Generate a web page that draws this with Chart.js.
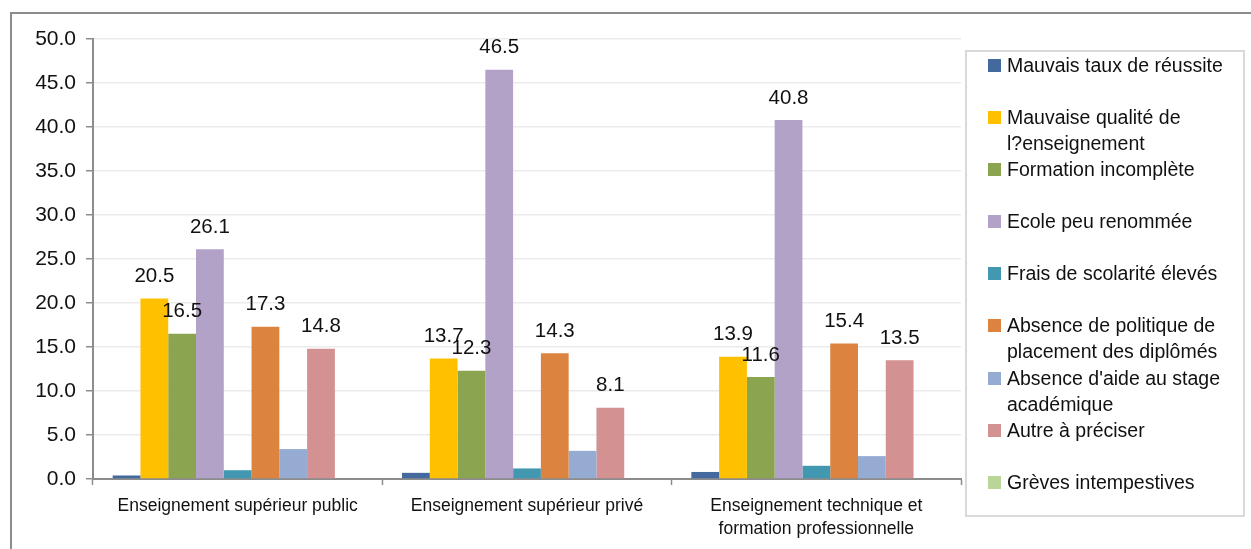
<!DOCTYPE html>
<html>
<head>
<meta charset="utf-8">
<script src="https://cdn.jsdelivr.net/npm/chart.js@4.4.1/dist/chart.umd.min.js"></script>
<style>
  html, body { margin: 0; padding: 0; background: #fff; overflow: hidden; }
  #wrap { position: relative; width: 1251px; height: 549px; }
  #frame { position: absolute; left: 10px; top: 12px; width: 1300px; height: 600px;
           border-top: 2px solid #8c8c8c; border-left: 2px solid #8c8c8c; }
  #main-chart { position: absolute; left: 0; top: 0; }
  #legend { position: absolute; left: 965px; top: 50px; width: 280px; height: 467px;
            border: 2px solid #d9d9d9; box-sizing: border-box; background: #fff;
            font-family: "Liberation Sans", Arial, sans-serif; font-size: 19.5px; color: #111; }
  .item { position: relative; height: 52.1px; line-height: 26px; padding-left: 40px; width: 236px; }
  .sw { position: absolute; left: 21px; top: 7px; width: 13px; height: 13px; }
  .w { white-space: nowrap; }
</style>
</head>
<body>
<div id="wrap">
  <div id="frame"></div>
  <canvas id="main-chart" width="1251" height="549"></canvas>
  <div id="legend"></div>
</div>
<script>
const categories = [
  "Enseignement supérieur public",
  "Enseignement supérieur privé",
  ["Enseignement technique et", "formation professionnelle"]
];
const seriesNames = [
  "Mauvais taux de réussite",
  "Mauvaise qualité de l?enseignement",
  "Formation incomplète",
  "Ecole peu renommée",
  "Frais de scolarité élevés",
  "Absence de politique de placement des diplômés",
  "Absence d'aide au stage académique",
  "Autre à préciser",
  "Grèves intempestives"
];
const tauxReussite   = [0.4, 0.7, 0.8];
const qualiteEns     = [20.5, 13.7, 13.9];
const formationInc   = [16.5, 12.3, 11.6];
const ecoleRenom     = [26.1, 46.5, 40.8];
const fraisScol      = [1.0, 1.2, 1.5];
const politiquePlac  = [17.3, 14.3, 15.4];
const aideStage      = [3.4, 3.2, 2.6];
const autre          = [14.8, 8.1, 13.5];
const greves         = [0, 0, 0];
const yTicks = [0, 5, 10, 15, 20, 25, 30, 35, 40, 45, 50];

const seriesValues = [tauxReussite, qualiteEns, formationInc, ecoleRenom, fraisScol,
                      politiquePlac, aideStage, autre, greves];
const colors = ['#44699f', '#ffc000', '#8aa44f', '#b3a2c7', '#4298b0',
                '#dc843f', '#95abd2', '#d39192', '#b9d597'];
// only these series carry value labels in the original
const labeled = [1, 2, 3, 5, 7];

const FONT = '"Liberation Sans", Arial, sans-serif';

const valueLabels = {
  id: 'valueLabels',
  afterDatasetsDraw(chart) {
    const ctx = chart.ctx;
    ctx.save();
    ctx.font = '20.5px ' + FONT;
    ctx.fillStyle = '#111';
    ctx.textAlign = 'center';
    ctx.textBaseline = 'middle';
    labeled.forEach(i => {
      const meta = chart.getDatasetMeta(i);
      meta.data.forEach((bar, j) => {
        ctx.fillText(seriesValues[i][j].toFixed(1), bar.x, bar.y - 22);
      });
    });
    ctx.restore();
  }
};

const chart = new Chart(document.getElementById('main-chart'), {
  type: 'bar',
  data: {
    labels: categories,
    datasets: seriesNames.map((name, i) => ({
      label: name,
      data: seriesValues[i],
      backgroundColor: colors[i],
      borderWidth: 0,
      categoryPercentage: 0.864,
      barPercentage: 1.0
    }))
  },
  options: {
    responsive: false,
    animation: false,
    layout: { padding: { left: 0, top: 39, right: 290, bottom: 0 } },
    plugins: { legend: { display: false }, tooltip: { enabled: false } },
    scales: {
      x: {
        afterFit: s => { s.height = 70; },
        border: { color: '#8c8c8c', width: 2 },
        grid: { drawOnChartArea: false, tickLength: 6, tickColor: '#8c8c8c', tickWidth: 1.5 },
        ticks: { color: '#111', padding: 10, maxRotation: 0, autoSkip: false,
                 font: { family: FONT, size: 17.5, lineHeight: 1.3 } }
      },
      y: {
        min: 0, max: 50,
        afterFit: s => { s.width = 93; },
        afterBuildTicks: s => { s.ticks = yTicks.map(v => ({ value: v })); },
        border: { color: '#8c8c8c', width: 2 },
        grid: { color: '#ebebeb', lineWidth: 1.5, tickLength: 7, tickColor: '#8c8c8c', tickWidth: 1.5 },
        ticks: { color: '#111', padding: 10, font: { family: FONT, size: 21 },
                 callback: v => Number(v).toFixed(1) }
      }
    }
  },
  plugins: [valueLabels]
});

// HTML legend: each word kept whole so "l?enseignement" does not split at the "?"
const legend = document.getElementById('legend');
seriesNames.forEach((name, i) => {
  const item = document.createElement('div');
  item.className = 'item';
  const words = name.split(' ').map(w => '<span class="w">' + w + '</span>').join(' ');
  item.innerHTML = '<span class="sw" style="background:' + colors[i] + '"></span>' + words;
  legend.appendChild(item);
});
</script>
</body>
</html>
